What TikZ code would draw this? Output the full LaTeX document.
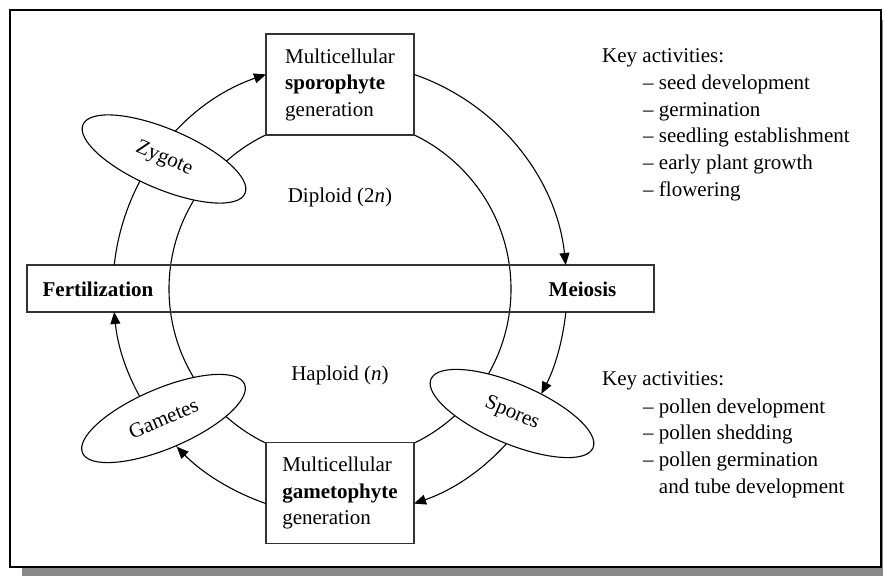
\documentclass[tikz,border=0pt]{standalone}
\usepackage{fontspec}
\setmainfont{Liberation Serif}
\usetikzlibrary{shapes.geometric,arrows.meta,calc}
\definecolor{shadowgray}{HTML}{888888}
\definecolor{boxline}{HTML}{333333}
\begin{document}
\begin{tikzpicture}[x=1pt,y=1pt,
  font=\fontsize{21}{26.5}\selectfont,
  conn/.style={line width=1.1pt,-{Triangle[length=12pt,width=10pt]}},
  plain/.style={line width=1.1pt},
  genbox/.style={draw=boxline,line width=1.3pt,fill=white,minimum width=148pt,minimum height=101pt,align=left,inner sep=0pt},
  phase/.style={draw,line width=1.1pt,fill=white,ellipse,minimum width=176pt,minimum height=60pt,inner sep=0pt},
  lbl/.style={anchor=base west,inner sep=0pt},
  ctr/.style={anchor=base,inner sep=0pt},
  boldtxt/.style={anchor=base,inner sep=0pt,font=\fontsize{21}{26.5}\selectfont\bfseries}
]
\useasboundingbox (0,0) rectangle (883,576);
% frame with shadow
\fill[shadowgray] (22,0) rectangle (883,556);
\draw[line width=2.2pt,fill=white] (10,9) rectangle (881,566);

% centre of the cycle
\coordinate (c) at (340,287);

% inner circle
\draw[plain] (c) circle[radius=171];

% horizontal bar
\node[draw=boxline,line width=1.3pt,minimum width=627pt,minimum height=47pt,inner sep=0pt] (bar) at (340.5,287.5) {};
\node[boldtxt] (fert) at (98,279.3) {Fertilization};
\node[boldtxt] (meio) at (582.5,279.3) {Meiosis};

% generation boxes
\node[genbox] (spor) at (340,491.5) {Multicellular\\\textbf{sporophyte}\\generation};
\node[genbox] (game) at (340,83) {Multicellular\\\textbf{gametophyte}\\generation};

% outer arcs passing under ellipses
\coordinate (o1) at ($(c)+(173.93:227)$);
\coordinate (o4) at ($(c)+(-27.5:227)$);
\coordinate (o6) at ($(c)+(224:227)$);
\draw[conn] (o1) arc[start angle=173.93,end angle=109.03,radius=227];
\draw[conn] (o4) arc[start angle=-27.5,end angle=-70.97,radius=227];
\draw[conn] (o6) arc[start angle=224,end angle=185.82,radius=227];

% ellipses
\node[phase,rotate=-23] (zyg) at (164,417) {Zygote};
\node[phase,rotate=23] (gam) at (163.5,157.5) {Gametes};
\node[phase,rotate=-23] (spo) at (512,162.5) {Spores};

% outer arcs ending at ellipses / bar
\coordinate (o2) at ($(c)+(70.97:227)$);
\coordinate (o3) at ($(c)+(-5.82:227)$);
\coordinate (o5) at ($(c)+(250.97:227)$);
\draw[conn] (o2) arc[start angle=70.97,end angle=6.07,radius=227];
\draw[conn] (o3) arc[start angle=-5.82,end angle=-27.5,radius=227];
\draw[conn] (o5) arc[start angle=250.97,end angle=224,radius=227];

% ploidy labels
\node[ctr] (dip) at (340,373) {Diploid (2\textit{n})};
\node[ctr] (hap) at (340,196) {Haploid (\textit{n})};

% key activities (top)
\node[lbl] (ka1) at (602,513) {Key activities:};
\node[lbl] (a1) at (643,486) {– seed development};
\node[lbl] (a2) at (643,459) {– germination};
\node[lbl] (a3) at (643,433) {– seedling establishment};
\node[lbl] (a4) at (643,406) {– early plant growth};
\node[lbl] (a5) at (643,379) {– flowering};

% key activities (bottom)
\node[lbl] (ka2) at (602,190) {Key activities:};
\node[lbl] (b1) at (643,163) {– pollen development};
\node[lbl] (b2) at (643,137) {– pollen shedding};
\node[lbl] (b3) at (643,110) {– pollen germination};
\node[lbl] (b4) at (643,83) {\phantom{– }and tube development};
\end{tikzpicture}
\end{document}
